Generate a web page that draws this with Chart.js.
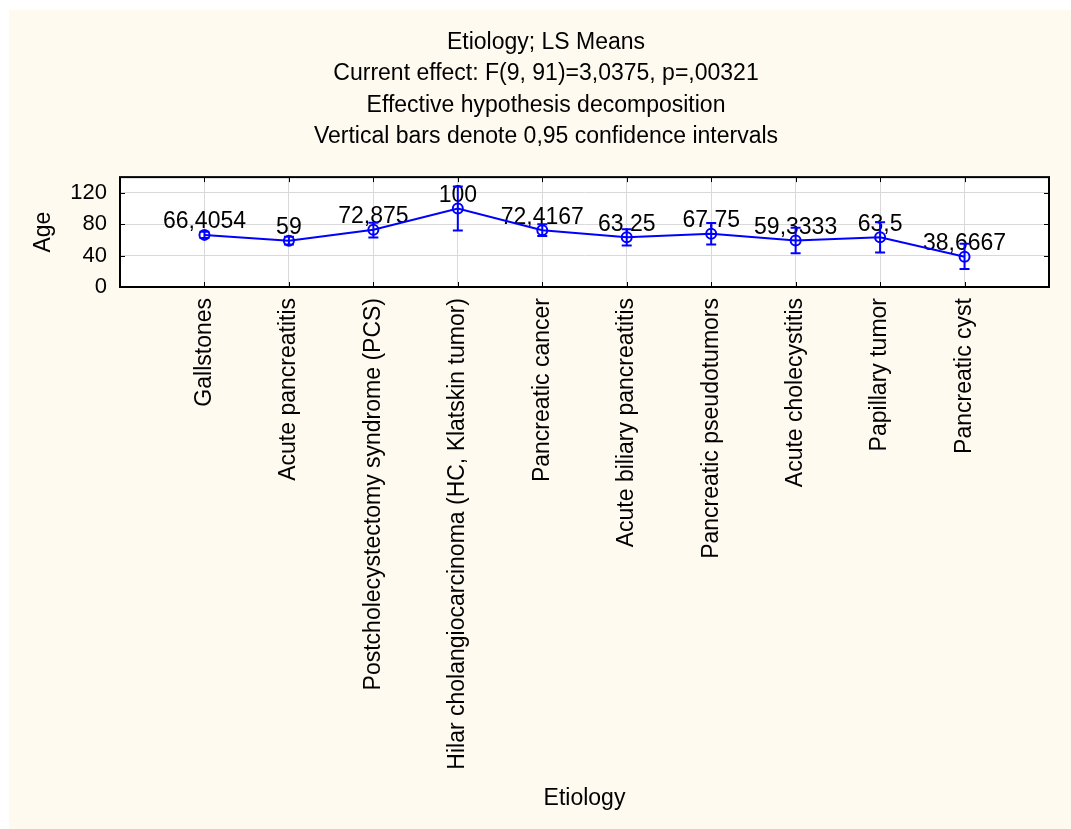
<!DOCTYPE html>
<html>
<head>
<meta charset="utf-8">
<title>Etiology; LS Means</title>
<script src="https://cdn.jsdelivr.net/npm/chart.js@4.4.0/dist/chart.umd.min.js"></script>
<style>
    html, body { margin: 0; padding: 0; background: #ffffff; }
    #wrap { position: absolute; left: 9px; top: 10px; width: 1062px; height: 819px; background: #fffaf0; }
</style>
</head>
<body>
<div id="wrap"><canvas id="lsChart" width="1062" height="819"></canvas></div>
<script>
// Chart data
const categories = [
    'Gallstones',
    'Acute pancreatitis',
    'Postcholecystectomy syndrome (PCS)',
    'Hilar cholangiocarcinoma (HC, Klatskin tumor)',
    'Pancreatic cancer',
    'Acute biliary pancreatitis',
    'Pancreatic pseudotumors',
    'Acute cholecystitis',
    'Papillary tumor',
    'Pancreatic cyst'
];
const means = [66.4054, 59, 72.875, 100, 72.4167, 63.25, 67.75, 59.3333, 63.5, 38.6667];
const lowerCI = [62.3, 54, 63, 72, 65, 53, 54, 43, 44, 23];
const upperCI = [70.5, 64, 82, 128, 80, 73.5, 81.5, 75.5, 82.5, 55];
const yTickLabels = [0, 40, 80, 120];
const titleLines = [
    'Etiology; LS Means',
    'Current effect: F(9, 91)=3,0375, p=,00321',
    'Effective hypothesis decomposition',
    'Vertical bars denote 0,95 confidence intervals'
];

const FONT = "'Liberation Sans', Arial, sans-serif";
const BLUE = '#0000ff';
const GRID = '#d9d9d9';

// Format a number the way the original does (comma decimal)
function formatValue(v) {
    return String(v).replace('.', ',');
}

// White plot area, value labels under the marks
const plotBackground = {
    id: 'plotBackground',
    beforeDraw(chart) {
        const { ctx, chartArea: a } = chart;
        ctx.save();
        ctx.fillStyle = '#ffffff';
        ctx.fillRect(a.left, a.top, a.right - a.left, a.bottom - a.top);
        ctx.restore();
    },
    beforeDatasetsDraw(chart) {
        const { ctx, scales } = chart;
        ctx.save();
        ctx.font = '23px ' + FONT;
        ctx.fillStyle = '#000000';
        ctx.textAlign = 'center';
        ctx.textBaseline = 'middle';
        means.forEach((m, i) => {
            const x = scales.x.getPixelForValue(i + 1);
            const y = scales.y.getPixelForValue(m);
            ctx.fillText(formatValue(m), x, y - 13);
        });
        ctx.restore();
    }
};

// Confidence interval whiskers
const errorBars = {
    id: 'errorBars',
    afterDatasetsDraw(chart) {
        const { ctx, scales } = chart;
        ctx.save();
        ctx.strokeStyle = BLUE;
        ctx.lineWidth = 2;
        means.forEach((m, i) => {
            const x = scales.x.getPixelForValue(i + 1);
            const yLo = scales.y.getPixelForValue(lowerCI[i]);
            const yHi = scales.y.getPixelForValue(upperCI[i]);
            ctx.beginPath();
            ctx.moveTo(x, yLo);
            ctx.lineTo(x, yHi);
            ctx.moveTo(x - 5, yLo);
            ctx.lineTo(x + 5, yLo);
            ctx.moveTo(x - 5, yHi);
            ctx.lineTo(x + 5, yHi);
            ctx.stroke();
        });
        ctx.restore();
    }
};

// Black frame with inward tick marks on all four sides
const frame = {
    id: 'frame',
    afterDraw(chart) {
        const { ctx, chartArea: a, scales } = chart;
        ctx.save();
        ctx.strokeStyle = '#000000';
        ctx.lineWidth = 1;
        ctx.beginPath();
        scales.y.ticks.forEach(t => {
            const y = Math.round(scales.y.getPixelForValue(t.value)) + 0.5;
            ctx.moveTo(a.left, y);
            ctx.lineTo(a.left + 5, y);
            ctx.moveTo(a.right, y);
            ctx.lineTo(a.right - 5, y);
        });
        scales.x.ticks.forEach(t => {
            const x = Math.round(scales.x.getPixelForValue(t.value)) + 0.5;
            ctx.moveTo(x, a.top);
            ctx.lineTo(x, a.top + 5);
            ctx.moveTo(x, a.bottom);
            ctx.lineTo(x, a.bottom - 5);
        });
        ctx.stroke();
        ctx.lineWidth = 2;
        ctx.strokeRect(a.left, a.top, a.right - a.left, a.bottom - a.top);
        ctx.restore();
    }
};

const ctx = document.getElementById('lsChart').getContext('2d');
new Chart(ctx, {
    type: 'line',
    data: {
        datasets: [{
            label: 'Age',
            data: means.map((m, i) => ({ x: i + 1, y: m })),
            borderColor: BLUE,
            borderWidth: 2,
            pointStyle: 'circle',
            pointRadius: 5,
            pointBorderWidth: 2,
            pointBorderColor: BLUE,
            pointBackgroundColor: 'rgba(0,0,0,0)',
            tension: 0,
            fill: false
        }]
    },
    options: {
        responsive: false,
        devicePixelRatio: 1,
        animation: false,
        layout: { padding: { left: 34, right: 22, top: 0, bottom: 0 } },
        plugins: {
            legend: { display: false },
            tooltip: { enabled: false },
            title: {
                display: true,
                text: titleLines,
                color: '#000000',
                font: { family: FONT, size: 23, weight: 'normal', lineHeight: 1.36 },
                padding: { top: 17, bottom: 25 }
            }
        },
        scales: {
            x: {
                type: 'linear',
                min: 0,
                max: categories.length + 1,
                afterBuildTicks: axis => {
                    axis.ticks = categories.map((c, i) => ({ value: i + 1 }));
                },
                afterFit: s => { s.height = 542; },
                ticks: {
                    autoSkip: false,
                    minRotation: 90,
                    maxRotation: 90,
                    padding: 11,
                    color: '#000000',
                    font: { family: FONT, size: 23 },
                    callback: v => categories[v - 1]
                },
                grid: { color: GRID, drawTicks: false },
                border: { display: false },
                title: {
                    display: true,
                    text: 'Etiology',
                    color: '#000000',
                    font: { family: FONT, size: 23 },
                    padding: { top: 0, bottom: 17 }
                }
            },
            y: {
                min: 0,
                max: 140,
                afterFit: s => { s.width = 77; },
                ticks: {
                    stepSize: 20,
                    padding: 13,
                    color: '#000000',
                    font: { family: FONT, size: 22 },
                    callback: v => yTickLabels.includes(v) ? v : ''
                },
                grid: { color: GRID, drawTicks: false },
                border: { display: false },
                title: {
                    display: true,
                    text: 'Age',
                    color: '#000000',
                    font: { family: FONT, size: 23 },
                    padding: { top: -13, bottom: 0 }
                }
            }
        }
    },
    plugins: [plotBackground, errorBars, frame]
});
</script>
</body>
</html>
